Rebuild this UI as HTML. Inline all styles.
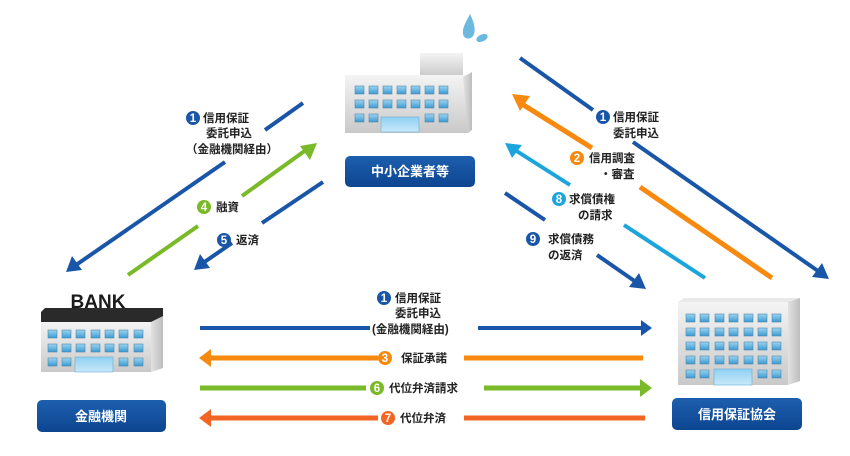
<!DOCTYPE html>
<html><head><meta charset="utf-8"><style>
html,body{margin:0;padding:0;background:#fff;}
svg{display:block;}
text{font-family:"Liberation Sans","Noto Sans CJK JP",sans-serif;font-weight:bold;}
</style></head><body>
<svg width="850" height="456" viewBox="0 0 850 456" xmlns="http://www.w3.org/2000/svg">
<defs>
<linearGradient id="bw" x1="0" y1="0" x2="0" y2="1"><stop offset="0" stop-color="#f4f4f4"/><stop offset="1" stop-color="#c9c9c9"/></linearGradient>
<linearGradient id="bs" x1="0" y1="0" x2="1" y2="0"><stop offset="0" stop-color="#e2e2e2"/><stop offset="1" stop-color="#bdbdbd"/></linearGradient>
<linearGradient id="win" x1="0" y1="0" x2="0" y2="1"><stop offset="0" stop-color="#9ed4f0"/><stop offset="1" stop-color="#3a9ad2"/></linearGradient>
<linearGradient id="door" x1="0" y1="0" x2="0" y2="1"><stop offset="0" stop-color="#8fd0f2"/><stop offset="1" stop-color="#c8e9f9"/></linearGradient>
<linearGradient id="lb" x1="0" y1="0" x2="0" y2="1"><stop offset="0" stop-color="#1d5fae"/><stop offset="1" stop-color="#0d4590"/></linearGradient>
</defs>

<!-- water drops -->
<path d="M470 14 C466 22 462 28 463 34 C464 40 472 40 474 34 C476 28 473 20 470 14Z" fill="#6cb9e0"/>
<ellipse cx="482" cy="38" rx="6" ry="3.5" fill="#6cb9e0" transform="rotate(-25 482 38)"/>

<!-- center building -->
<rect x="420" y="53" width="43" height="24" fill="url(#bw)"/>
<rect x="345" y="75" width="123" height="58" fill="url(#bw)"/>
<polygon points="463,77 472,72 472,130 468,133" fill="url(#bs)"/>
<g fill="url(#win)" stroke="#4f88aa" stroke-width="0.6">
<rect x="355" y="86" width="9" height="8"/><rect x="369" y="86" width="9" height="8"/><rect x="383" y="86" width="9" height="8"/><rect x="397" y="86" width="9" height="8"/><rect x="411" y="86" width="9" height="8"/><rect x="425" y="86" width="9" height="8"/><rect x="439" y="86" width="9" height="8"/>
<rect x="355" y="100" width="9" height="8"/><rect x="369" y="100" width="9" height="8"/><rect x="383" y="100" width="9" height="8"/><rect x="397" y="100" width="9" height="8"/><rect x="411" y="100" width="9" height="8"/><rect x="425" y="100" width="9" height="8"/><rect x="439" y="100" width="9" height="8"/>
<rect x="355" y="114" width="9" height="8"/><rect x="369" y="114" width="9" height="8"/><rect x="425" y="114" width="9" height="8"/><rect x="439" y="114" width="9" height="8"/>
</g>
<rect x="381" y="117" width="38" height="15" fill="url(#door)" stroke="#6aaed4" stroke-width="0.6"/>
<rect x="345" y="156" width="130" height="31" rx="5" fill="url(#lb)"/>
<text x="410" y="176" font-size="13" fill="#fff" text-anchor="middle">中小企業者等</text>

<!-- BANK building -->
<text x="98" y="308" font-size="19" font-weight="900" fill="#1a1a1a" text-anchor="middle">BANK</text>
<polygon points="45,308 163,308 163,322 41,322 41,312" fill="#2a2a2a"/>
<rect x="41" y="322" width="110" height="50" fill="url(#bw)"/>
<polygon points="151,322 163,316 163,368 151,372" fill="url(#bs)"/>
<g fill="url(#win)" stroke="#4f88aa" stroke-width="0.6">
<rect x="48" y="330" width="9" height="8"/><rect x="62" y="330" width="9" height="8"/><rect x="76" y="330" width="9" height="8"/><rect x="91" y="330" width="9" height="8"/><rect x="105" y="330" width="9" height="8"/><rect x="119" y="330" width="9" height="8"/><rect x="134" y="330" width="9" height="8"/>
<rect x="48" y="344" width="9" height="8"/><rect x="62" y="344" width="9" height="8"/><rect x="76" y="344" width="9" height="8"/><rect x="91" y="344" width="9" height="8"/><rect x="105" y="344" width="9" height="8"/><rect x="119" y="344" width="9" height="8"/><rect x="134" y="344" width="9" height="8"/>
<rect x="48" y="358" width="9" height="8"/><rect x="62" y="358" width="9" height="8"/><rect x="119" y="358" width="9" height="8"/><rect x="134" y="358" width="9" height="8"/>
</g>
<rect x="75" y="357" width="38" height="15" fill="url(#door)" stroke="#6aaed4" stroke-width="0.6"/>
<rect x="37" y="400" width="129" height="32" rx="5" fill="url(#lb)"/>
<text x="101" y="421" font-size="13" fill="#fff" text-anchor="middle">金融機関</text>

<!-- right building -->
<rect x="678" y="302" width="110" height="83" fill="url(#bw)"/>
<polygon points="788,302 800,298 800,381 788,385" fill="url(#bs)"/>
<polygon points="678,302 684,298 800,298 788,302" fill="#e9e9e9"/>
<g fill="url(#win)" stroke="#4f88aa" stroke-width="0.6">
<rect x="686" y="314" width="9" height="8"/><rect x="700" y="314" width="9" height="8"/><rect x="715" y="314" width="9" height="8"/><rect x="729" y="314" width="9" height="8"/><rect x="744" y="314" width="9" height="8"/><rect x="758" y="314" width="9" height="8"/><rect x="772" y="314" width="9" height="8"/>
<rect x="686" y="328" width="9" height="8"/><rect x="700" y="328" width="9" height="8"/><rect x="715" y="328" width="9" height="8"/><rect x="729" y="328" width="9" height="8"/><rect x="744" y="328" width="9" height="8"/><rect x="758" y="328" width="9" height="8"/><rect x="772" y="328" width="9" height="8"/>
<rect x="686" y="342" width="9" height="8"/><rect x="700" y="342" width="9" height="8"/><rect x="715" y="342" width="9" height="8"/><rect x="729" y="342" width="9" height="8"/><rect x="744" y="342" width="9" height="8"/><rect x="758" y="342" width="9" height="8"/><rect x="772" y="342" width="9" height="8"/>
<rect x="686" y="356" width="9" height="8"/><rect x="700" y="356" width="9" height="8"/><rect x="715" y="356" width="9" height="8"/><rect x="729" y="356" width="9" height="8"/><rect x="744" y="356" width="9" height="8"/><rect x="758" y="356" width="9" height="8"/><rect x="772" y="356" width="9" height="8"/>
<rect x="686" y="370" width="9" height="8"/><rect x="700" y="370" width="9" height="8"/><rect x="758" y="370" width="9" height="8"/><rect x="772" y="370" width="9" height="8"/>
</g>
<rect x="714" y="369" width="38" height="16" fill="url(#door)" stroke="#6aaed4" stroke-width="0.6"/>
<rect x="672" y="398" width="130" height="32" rx="5" fill="url(#lb)"/>
<text x="737" y="419" font-size="13" fill="#fff" text-anchor="middle">信用保証協会</text>

<!-- left diagonal arrows -->
<g stroke-width="4" fill="none">
<line x1="303" y1="103" x2="265" y2="130" stroke="#1a56a8"/>
<line x1="225" y1="162" x2="76" y2="265" stroke="#1a56a8"/>
<line x1="128" y1="275" x2="198" y2="226" stroke="#7ab928"/>
<line x1="242" y1="196" x2="306" y2="150" stroke="#7ab928"/>
<line x1="323" y1="182" x2="262" y2="223" stroke="#1a56a8"/>
<line x1="232" y1="243" x2="203" y2="263" stroke="#1a56a8"/>
</g>
<polygon points="66,272 72,256 82,270" fill="#1a56a8"/>
<polygon points="317,143 300,146 310,160" fill="#7ab928"/>
<polygon points="194,270 200,254 210,268" fill="#1a56a8"/>

<!-- right diagonal arrows -->
<g stroke-width="4" fill="none">
<line x1="520" y1="58" x2="593" y2="110" stroke="#1a56a8"/>
<line x1="633" y1="142" x2="818" y2="271" stroke="#1a56a8"/>
<line x1="772" y1="278" x2="640" y2="187" stroke="#f7890f" stroke-width="5"/>
<line x1="592" y1="148" x2="522" y2="104" stroke="#f7890f" stroke-width="5"/>
<line x1="705" y1="278" x2="624" y2="225" stroke="#1ba5dc"/>
<line x1="570" y1="185" x2="515" y2="150" stroke="#1ba5dc"/>
<line x1="505" y1="193" x2="545" y2="220" stroke="#1a56a8"/>
<line x1="597" y1="255" x2="636" y2="282" stroke="#1a56a8"/>
</g>
<polygon points="829,279 812,277 822,263" fill="#1a56a8"/>
<polygon points="512,94 530,96 520,111" fill="#f7890f"/>
<polygon points="505,143 522,145 512,158" fill="#1ba5dc"/>
<polygon points="646,289 629,287 639,273" fill="#1a56a8"/>

<!-- horizontal arrows -->
<g stroke-width="4">
<line x1="200" y1="328" x2="370" y2="328" stroke="#1a56a8"/>
<line x1="478" y1="328" x2="642" y2="328" stroke="#1a56a8"/>
<line x1="210" y1="358" x2="378" y2="358" stroke="#f7890f" stroke-width="5"/>
<line x1="464" y1="358" x2="643" y2="358" stroke="#f7890f" stroke-width="5"/>
<line x1="200" y1="388" x2="366" y2="388" stroke="#7ab928" stroke-width="5"/>
<line x1="484" y1="388" x2="642" y2="388" stroke="#7ab928" stroke-width="5"/>
<line x1="210" y1="418" x2="378" y2="418" stroke="#f26522" stroke-width="5"/>
<line x1="464" y1="418" x2="645" y2="418" stroke="#f26522" stroke-width="5"/>
</g>
<polygon points="652,328 641,320 641,336" fill="#1a56a8"/>
<polygon points="199,358 211,349 211,367" fill="#f7890f"/>
<polygon points="652,388 640,379 640,397" fill="#7ab928"/>
<polygon points="199,418 211,409 211,427" fill="#f26522"/>

<!-- labels -->
<g font-size="11.5" fill="#222">
<circle cx="193" cy="118" r="7" fill="#1a56a8"/><text x="193" y="122" fill="#fff" text-anchor="middle">1</text>
<text x="203" y="122">信用保証</text>
<text x="206" y="137">委託申込</text>
<text x="186" y="153">（金融機関経由）</text>
<circle cx="204" cy="207" r="7" fill="#7ab928"/><text x="204" y="211" fill="#fff" text-anchor="middle">4</text>
<text x="216" y="211">融資</text>
<circle cx="224" cy="240" r="7" fill="#1a56a8"/><text x="224" y="244" fill="#fff" text-anchor="middle">5</text>
<text x="236" y="244">返済</text>

<circle cx="603" cy="117" r="7" fill="#1a56a8"/><text x="603" y="121" fill="#fff" text-anchor="middle">1</text>
<text x="613" y="121">信用保証</text>
<text x="613" y="137">委託申込</text>
<circle cx="577" cy="158" r="7" fill="#f7890f"/><text x="577" y="162" fill="#fff" text-anchor="middle">2</text>
<text x="589" y="162">信用調査</text>
<text x="600" y="178">・審査</text>
<circle cx="559" cy="199" r="7" fill="#1ba5dc"/><text x="559" y="203" fill="#fff" text-anchor="middle">8</text>
<text x="569" y="203">求償債権</text>
<text x="578" y="219">の請求</text>
<circle cx="533" cy="239" r="7" fill="#1a56a8"/><text x="533" y="243" fill="#fff" text-anchor="middle">9</text>
<text x="548" y="243">求償債務</text>
<text x="548" y="259">の返済</text>

<circle cx="384" cy="298" r="7" fill="#1a56a8"/><text x="384" y="302" fill="#fff" text-anchor="middle">1</text>
<text x="395" y="302">信用保証</text>
<text x="395" y="317">委託申込</text>
<text x="372" y="333">(金融機関経由)</text>
<circle cx="385" cy="358" r="7" fill="#f7890f"/><text x="385" y="362" fill="#fff" text-anchor="middle">3</text>
<text x="401" y="362">保証承諾</text>
<circle cx="377" cy="388" r="7" fill="#7ab928"/><text x="377" y="392" fill="#fff" text-anchor="middle">6</text>
<text x="389" y="392">代位弁済請求</text>
<circle cx="388" cy="418" r="7" fill="#f26522"/><text x="388" y="422" fill="#fff" text-anchor="middle">7</text>
<text x="400" y="422">代位弁済</text>
</g>
</svg>
</body></html>
